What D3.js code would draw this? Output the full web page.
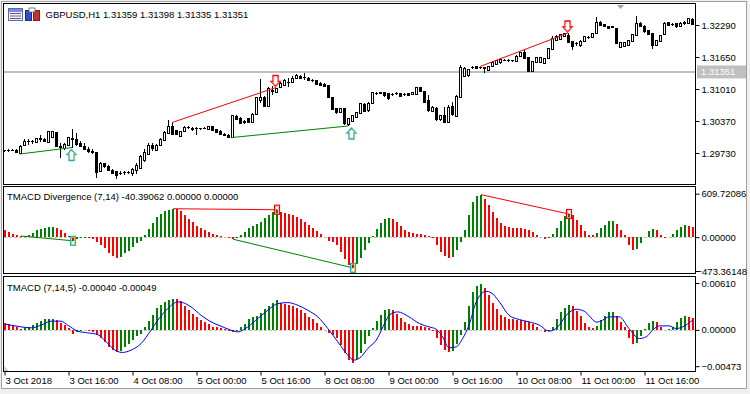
<!DOCTYPE html>
<html>
<head>
<meta charset="utf-8">
<script src="https://cdn.jsdelivr.net/npm/d3@7"></script>
<style>
body { margin: 0; background: #fff; }
svg { display: block; font-family: "Liberation Sans", Arial, sans-serif; }
</style>
</head>
<body>
<div id="chart"></div>
<script>
//GBPUSD H1 candles -> [open, high, low, close]
var candles = [
 [1.2978,1.2980,1.2976,1.2979],[1.2979,1.2981,1.2976,1.2978],[1.2978,1.2981,1.2977,1.2979],[1.2979,1.2981,1.2973,1.2974],
 [1.2973,1.2990,1.2971,1.2987],[1.2989,1.3002,1.2987,1.2996],[1.2996,1.3001,1.2989,1.2997],[1.2997,1.3000,1.2991,1.2996],
 [1.2995,1.3004,1.2994,1.3002],[1.3002,1.3009,1.2996,1.3001],[1.3001,1.3003,1.2996,1.2997],[1.2995,1.3018,1.2994,1.3016],
 [1.3005,1.3018,1.3003,1.3016],[1.3015,1.3016,1.2986,1.2987],[1.2987,1.2993,1.2963,1.2984],[1.2982,1.2993,1.2980,1.2991],
 [1.2989,1.3005,1.2987,1.3004],[1.3003,1.3022,1.2984,1.3001],[1.3001,1.3013,1.2987,1.2991],[1.2992,1.2997,1.2985,1.2986],
 [1.2986,1.2993,1.2979,1.2981],[1.2981,1.2985,1.2973,1.2976],[1.2977,1.2981,1.2972,1.2975],[1.2975,1.2976,1.2923,1.2935],
 [1.2937,1.2955,1.2935,1.2952],[1.2952,1.2954,1.2943,1.2946],[1.2946,1.2949,1.2937,1.2938],[1.2939,1.2941,1.2931,1.2933],
 [1.2936,1.2938,1.2922,1.2928],[1.2933,1.2937,1.2929,1.2932],[1.2934,1.2937,1.2930,1.2935],[1.2934,1.2937,1.2931,1.2935],
 [1.2933,1.2943,1.2928,1.2941],[1.2939,1.2953,1.2931,1.2949],[1.2943,1.2969,1.2941,1.2967],[1.2959,1.2981,1.2955,1.2975],
 [1.2971,1.2993,1.2969,1.2989],[1.2989,1.2993,1.2977,1.2983],[1.2979,1.2991,1.2977,1.2989],[1.2989,1.3003,1.2987,1.3001],
 [1.2999,1.3017,1.2997,1.3015],[1.3013,1.3039,1.3011,1.3027],[1.3027,1.3034,1.3009,1.3011],[1.3018,1.3019,1.3009,1.3011],
 [1.3007,1.3018,1.3005,1.3017],[1.3016,1.3027,1.3015,1.3025],[1.3024,1.3027,1.3021,1.3024],[1.3023,1.3025,1.3018,1.3020],
 [1.3022,1.3026,1.3009,1.3022],[1.3022,1.3024,1.3020,1.3023],[1.3022,1.3025,1.3021,1.3023],[1.3021,1.3028,1.3020,1.3026],
 [1.3026,1.3028,1.3017,1.3019],[1.3020,1.3022,1.3014,1.3015],[1.3017,1.3019,1.3009,1.3010],[1.3010,1.3013,1.3007,1.3009],
 [1.3009,1.3011,1.3004,1.3005],[1.3005,1.3049,1.3004,1.3048],[1.3047,1.3049,1.3039,1.3040],[1.3042,1.3045,1.3032,1.3033],
 [1.3035,1.3039,1.3032,1.3036],[1.3042,1.3043,1.3033,1.3034],[1.3035,1.3053,1.3033,1.3051],[1.3051,1.3085,1.3049,1.3084],
 [1.3079,1.3122,1.3073,1.3085],[1.3085,1.3087,1.3065,1.3067],[1.3067,1.3105,1.3065,1.3103],[1.3096,1.3107,1.3089,1.3099],
 [1.3095,1.3104,1.3093,1.3103],[1.3105,1.3115,1.3103,1.3112],[1.3109,1.3121,1.3107,1.3118],[1.3114,1.3123,1.3105,1.3115],
 [1.3115,1.3127,1.3113,1.3123],[1.3123,1.3131,1.3121,1.3128],[1.3127,1.3129,1.3121,1.3123],[1.3125,1.3134,1.3119,1.3124],
 [1.3123,1.3125,1.3117,1.3119],[1.3119,1.3121,1.3115,1.3118],[1.3119,1.3120,1.3109,1.3111],[1.3113,1.3115,1.3107,1.3109],
 [1.3111,1.3113,1.3105,1.3107],[1.3108,1.3109,1.3083,1.3085],[1.3085,1.3086,1.3059,1.3061],[1.3062,1.3063,1.3051,1.3054],
 [1.3054,1.3064,1.3053,1.3062],[1.3062,1.3063,1.3029,1.3032],[1.3030,1.3044,1.3027,1.3042],[1.3037,1.3049,1.3035,1.3048],
 [1.3044,1.3055,1.3043,1.3054],[1.3053,1.3073,1.3051,1.3072],[1.3071,1.3073,1.3055,1.3057],[1.3058,1.3075,1.3056,1.3073],
 [1.3073,1.3096,1.3071,1.3094],[1.3093,1.3096,1.3090,1.3092],[1.3093,1.3096,1.3091,1.3094],[1.3094,1.3095,1.3086,1.3088],
 [1.3093,1.3094,1.3080,1.3082],[1.3091,1.3094,1.3087,1.3090],[1.3092,1.3095,1.3090,1.3093],[1.3093,1.3094,1.3085,1.3086],
 [1.3090,1.3093,1.3087,1.3091],[1.3092,1.3093,1.3087,1.3089],[1.3091,1.3095,1.3090,1.3094],[1.3091,1.3105,1.3090,1.3104],
 [1.3104,1.3106,1.3095,1.3097],[1.3097,1.3098,1.3073,1.3075],[1.3079,1.3089,1.3055,1.3058],[1.3056,1.3067,1.3055,1.3064],
 [1.3063,1.3065,1.3038,1.3040],[1.3040,1.3049,1.3038,1.3048],[1.3049,1.3065,1.3033,1.3035],[1.3035,1.3069,1.3033,1.3065],
 [1.3067,1.3075,1.3047,1.3051],[1.3047,1.3089,1.3045,1.3087],[1.3085,1.3149,1.3083,1.3144],[1.3127,1.3145,1.3125,1.3142],
 [1.3128,1.3142,1.3126,1.3140],[1.3144,1.3148,1.3141,1.3145],[1.3146,1.3147,1.3141,1.3142],[1.3144,1.3146,1.3141,1.3145],
 [1.3144,1.3146,1.3133,1.3143],[1.3139,1.3147,1.3138,1.3146],[1.3146,1.3157,1.3145,1.3155],[1.3151,1.3160,1.3150,1.3159],
 [1.3154,1.3163,1.3152,1.3161],[1.3159,1.3161,1.3157,1.3158],[1.3159,1.3161,1.3156,1.3158],[1.3158,1.3160,1.3156,1.3159],
 [1.3157,1.3169,1.3156,1.3167],[1.3166,1.3175,1.3165,1.3174],[1.3174,1.3182,1.3162,1.3163],[1.3164,1.3165,1.3135,1.3136],
 [1.3136,1.3158,1.3135,1.3157],[1.3155,1.3165,1.3154,1.3164],[1.3155,1.3166,1.3153,1.3164],[1.3153,1.3164,1.3151,1.3163],
 [1.3162,1.3183,1.3161,1.3182],[1.3180,1.3207,1.3179,1.3202],[1.3198,1.3209,1.3197,1.3207],[1.3201,1.3212,1.3200,1.3211],
 [1.3206,1.3214,1.3205,1.3213],[1.3209,1.3213,1.3193,1.3194],[1.3197,1.3198,1.3180,1.3187],[1.3193,1.3196,1.3188,1.3192],
 [1.3189,1.3199,1.3186,1.3197],[1.3197,1.3207,1.3196,1.3206],[1.3204,1.3207,1.3202,1.3205],[1.3204,1.3213,1.3203,1.3212],
 [1.3212,1.3246,1.3211,1.3235],[1.3235,1.3237,1.3227,1.3229],[1.3231,1.3232,1.3225,1.3226],[1.3227,1.3228,1.3222,1.3223],
 [1.3226,1.3228,1.3223,1.3225],[1.3223,1.3224,1.3191,1.3192],[1.3185,1.3195,1.3184,1.3194],[1.3187,1.3196,1.3186,1.3195],
 [1.3189,1.3200,1.3188,1.3199],[1.3196,1.3211,1.3195,1.3210],[1.3209,1.3247,1.3207,1.3232],[1.3232,1.3235,1.3225,1.3226],
 [1.3227,1.3229,1.3214,1.3216],[1.3219,1.3220,1.3209,1.3211],[1.3213,1.3214,1.3182,1.3188],[1.3189,1.3200,1.3187,1.3199],
 [1.3196,1.3210,1.3195,1.3209],[1.3211,1.3235,1.3210,1.3233],[1.3234,1.3235,1.3227,1.3229],[1.3231,1.3233,1.3228,1.3230],
 [1.3232,1.3233,1.3224,1.3226],[1.3227,1.3235,1.3225,1.3233],[1.3232,1.3237,1.3230,1.3235],[1.3233,1.3244,1.3232,1.3242],
 [1.3241,1.3243,1.3230,1.3231]
];

//TMACD histogram in points (divergence pane), same bars / 100000 in the TMACD pane
var histPts = [
 95, 80, 47, 33, 17, 20, 33, 62, 95, 120,
 135, 142, 146, 125, 95, 60, 22, -50, -32, -12,
 -4, -10, -28, -61, -108, -155, -225, -263, -286, -272,
 -225, -188, -131, -84, -52, 33, 113, 197, 281, 324,
 361, 385, 399, 396, 370, 314, 258, 211, 164, 127,
 103, 70, 42, 33, 23, 5, -14, -28, -14, 33,
 80, 136, 164, 183, 220, 267, 305, 352, 385, 352,
 338, 323, 314, 281, 253, 220, 173, 136, 94, 42,
 -3, -47, -70, -108, -202, -305, -389, -430, -380, -295,
 -178, -84, 23, 117, 197, 258, 272, 253, 211, 159,
 103, 70, 55, 50, 45, 38, 23, -14, -108, -202,
 -263, -286, -272, -178, -70, 103, 305, 492, 572, 596,
 539, 455, 352, 267, 197, 164, 141, 136, 127, 125,
 117, 103, 80, 33, -3, -23, -14, 42, 136, 230,
 291, 325, 315, 244, 174, 94, 33, 30, 56, 127,
 174, 230, 232, 183, 103, 33, -108, -178, -165, -84,
 10, 94, 117, 103, 33, -5, 5, 42, 103, 150,
 174, 164, 150
];

var signalPts = [
 [0,74],[1.5,61],[4,39],[6.5,26],[9,61],[11.5,113],[14,113],[15.7,61],[18.2,-17],[20.7,-39],
 [23.2,-61],[25.7,-178],[27.8,-273],[29.4,-294],[31.5,-264],[34,-178],[36.5,-4],[38.2,126],[40.7,277],[43.2,364],
 [44.4,355],[46.5,299],[49,190],[51.5,104],[54,48],[56.5,-4],[58.2,-26],[60.7,39],[63.2,147],[65.7,255],
 [68.2,342],[70.7,355],[73.2,320],[75.7,255],[78.2,169],[80.7,17],[83.2,-156],[85.7,-329],[87.2,-394],[89,-351],
 [90.7,-242],[92.8,-134],[95.3,126],[96,190],[98.2,234],[101,169],[103.6,82],[106,39],[107.8,9],[109.4,-91],
 [111,-234],[112.8,-221],[114.4,-113],[116,61],[117.8,364],[120.3,502],[121.5,485],[123.6,364],[126,190],[128.6,134],
 [131,104],[133.6,61],[136,-17],[138.2,39],[140.3,190],[142.8,268],[144.8,243],[148,100],[149.4,126],[151,169],
 [153.6,169],[156,17],[158.6,-113],[160.3,-91],[161.9,-4],[163.6,52],[166,52],[167.8,17],[169.4,39],[171.9,126]
];

//divergences: a -> b bar indexes, arrow bar
var priceDiv = [
 {a: 4, b: 17, kind: "bull"},
 {a: 42, b: 68, kind: "bear"},
 {a: 57, b: 86, kind: "bull"},
 {a: 119, b: 141, kind: "bear"}
];
var histDiv = [
 {a: 4, b: 17, kind: "bull"},
 {a: 42, b: 68, kind: "bear"},
 {a: 57, b: 87, kind: "bull"},
 {a: 119, b: 141, kind: "bear"}
];
var arrowBars = [17, 68, 87, 141];

var timeIdx = [0, 16, 32, 48, 64, 80, 96, 112, 128, 144, 160];
var timeLabels = ["3 Oct 2018", "3 Oct 16:00", "4 Oct 08:00", "5 Oct 00:00", "5 Oct 16:00", "8 Oct 08:00",
                  "9 Oct 00:00", "9 Oct 16:00", "10 Oct 08:00", "11 Oct 00:00", "11 Oct 16:00"];
var priceTicks = [1.32290, 1.31650, 1.31010, 1.30370, 1.29730];
var bidPrice = 1.31351;
var divTicks = [609.72086, 0, -473.36148];
var macdTicks = [0.00610, 0, -0.00473];

var W = 750, H = 394;
var GREEN = "#008000", RED = "#ff0000";
var TEAL = "#19b2bb", GOLD = "#e8b830";

var svg = d3.select("#chart")
            .append("svg")
            .attr("width", W)
            .attr("height", H);

//window frame
svg.append("rect").attr("width", W).attr("height", H).attr("fill", "#f0f0f0");
svg.append("rect")
   .attr("x", 1.5).attr("y", 1.5)
   .attr("width", 745).attr("height", 387)
   .attr("fill", "#fff")
   .attr("stroke", "#a0a0a0");

//scales
var x = d3.scaleLinear().domain([0, candles.length - 1]).range([4, 692]);
var yP = d3.scaleLinear().domain([1.2909, 1.3271]).range([185, 4]);
var yD = d3.scaleLinear().domain([-473.36148, 609.72086]).range([271, 193.7]);
var yM = d3.scaleLinear().domain([-0.00473, 0.0061]).range([366.2, 283]);

//pane boxes
var panes = [
  {id: "clipMain", y0: 3.5, y1: 184.5},
  {id: "clipDiv", y0: 186.5, y1: 273.5},
  {id: "clipMacd", y0: 276.5, y1: 371.5}
];
var defs = svg.append("defs");
panes.forEach(function(p) {
  defs.append("clipPath").attr("id", p.id)
      .append("rect")
      .attr("x", 4).attr("y", p.y0 + 0.5)
      .attr("width", 691).attr("height", p.y1 - p.y0 - 1);
});

//Main pane
var gM = svg.append("g").attr("clip-path", "url(#clipMain)");

//bid line
gM.append("line")
  .attr("x1", 4).attr("x2", 695)
  .attr("y1", Math.round(yP(bidPrice))).attr("y2", Math.round(yP(bidPrice)))
  .attr("stroke", "#c0c0c0")
  .attr("stroke-width", 2);

var gCandle = gM.append("g").attr("shape-rendering", "crispEdges");

gCandle.append("g").selectAll("line")
  .data(candles)
  .join("line")
  .attr("x1", function(d, i) { return x(i) + 0.5; })
  .attr("x2", function(d, i) { return x(i) + 0.5; })
  .attr("y1", function(d) { return yP(d[1]); })
  .attr("y2", function(d) { return yP(d[2]); })
  .attr("stroke", "#000");

gCandle.append("g").selectAll("rect")
  .data(candles)
  .join("rect")
  .attr("x", function(d, i) { return x(i) - 0.5; })
  .attr("width", 2)
  .attr("y", function(d) { return yP(Math.max(d[0], d[3])); })
  .attr("height", function(d) { return Math.max(0.01, Math.abs(yP(d[0]) - yP(d[3]))); })
  .attr("fill", function(d) { return d[3] >= d[0] ? "#fff" : "#000"; })
  .attr("stroke", "#000");

//price divergence lines
priceDiv.forEach(function(p) {
  var k = p.kind == "bull" ? 2 : 1;
  gM.append("line")
    .attr("x1", x(p.a)).attr("y1", yP(candles[p.a][k]))
    .attr("x2", x(p.b)).attr("y2", yP(candles[p.b][k]))
    .attr("stroke", p.kind == "bull" ? GREEN : RED)
    .attr("stroke-width", 1);
});

function arrowPath(cx, tip, s) {
  return "M" + cx + "," + tip +
         "L" + (cx + 4.5) + "," + (tip + s * 5) +
         "L" + (cx + 2.5) + "," + (tip + s * 5) +
         "L" + (cx + 2.5) + "," + (tip + s * 11) +
         "L" + (cx - 2.5) + "," + (tip + s * 11) +
         "L" + (cx - 2.5) + "," + (tip + s * 5) +
         "L" + (cx - 4.5) + "," + (tip + s * 5) + "Z";
}

//arrows
priceDiv.forEach(function(p, j) {
  var cx = x(arrowBars[j]) - 0.5;
  if (p.kind == "bull") {
    var tip = yP(candles[p.b][2]) + 2;
    gM.append("path").attr("d", arrowPath(cx, tip, 1))
      .attr("fill", "#fff").attr("stroke", TEAL).attr("stroke-width", 1.3);
    gM.append("path").attr("d", arrowPath(cx + 0.6, tip + 1.2, 1))
      .attr("fill", "none").attr("stroke", GOLD).attr("stroke-width", 0.6)
      .attr("transform", "translate(" + (cx * 0.2) + "," + (tip * 0.2) + ") scale(0.8)");
  } else {
    var tip2 = yP(candles[p.b][1]) - 1;
    gM.append("path").attr("d", arrowPath(cx, tip2, -1))
      .attr("fill", "#fff").attr("stroke", RED).attr("stroke-width", 1.3);
    gM.append("path").attr("d", arrowPath(cx, tip2, -1))
      .attr("fill", "none").attr("stroke", "#ffb0b0").attr("stroke-width", 0.6)
      .attr("transform", "translate(" + (cx * 0.2) + "," + (tip2 * 0.2) + ") scale(0.8)");
  }
});

//shift marker
svg.append("path").attr("d", "M617,5L624,5L620.5,9Z").attr("fill", "#a0a0a0");

//title + icons
svg.append("rect").attr("x", 8.5).attr("y", 8.5).attr("width", 14).attr("height", 12)
   .attr("fill", "#eef0fa").attr("stroke", "#5a6aa8");
svg.append("rect").attr("x", 9).attr("y", 9).attr("width", 13).attr("height", 3).attr("fill", "#7c8ccc");
[13.5, 16, 18.5].forEach(function(yy, k) {
  svg.append("line").attr("x1", 10).attr("x2", 21).attr("y1", yy).attr("y2", yy)
     .attr("stroke", k == 1 ? "#d04040" : "#4060c0");
});
svg.append("rect").attr("x", 25.5).attr("y", 10.5).attr("width", 6).attr("height", 10)
   .attr("fill", "#3050c8").attr("stroke", "#203080");
svg.append("rect").attr("x", 33.5).attr("y", 10.5).attr("width", 6).attr("height", 10)
   .attr("fill", "#c83030").attr("stroke", "#802020");
svg.append("rect").attr("x", 29).attr("y", 8).attr("width", 6).attr("height", 4)
   .attr("fill", "#fff").attr("stroke", "#606060").attr("stroke-width", 0.8);

svg.append("text")
   .attr("x", 45.5).attr("y", 18)
   .attr("font-size", "9.5px")
   .text("GBPUSD,H1  1.31359 1.31398 1.31335 1.31351");

//Divergence pane
var gD = svg.append("g").attr("clip-path", "url(#clipDiv)");

gD.append("line")
  .attr("x1", 4).attr("x2", 695)
  .attr("y1", Math.round(yD(0)) + 0.5).attr("y2", Math.round(yD(0)) + 0.5)
  .attr("stroke", "#c0c0c0").attr("stroke-dasharray", "3,2");

function barColor(d, i, arr) {
  return (i > 0 && d > arr[i - 1]) ? GREEN : RED;
}

gD.append("g").attr("shape-rendering", "crispEdges")
  .selectAll("rect")
  .data(histPts)
  .join("rect")
  .attr("x", function(d, i) { return x(i); })
  .attr("width", 2)
  .attr("y", function(d) { return Math.min(yD(d), yD(0)); })
  .attr("height", function(d) { return Math.abs(yD(d) - yD(0)); })
  .attr("fill", function(d, i) { return barColor(d, i, histPts); });

histDiv.forEach(function(p) {
  gD.append("line")
    .attr("x1", x(p.a) + 1).attr("y1", yD(histPts[p.a]))
    .attr("x2", x(p.b) + 1).attr("y2", yD(histPts[p.b]))
    .attr("stroke", p.kind == "bull" ? GREEN : RED);
});

histDiv.forEach(function(p, j) {
  var bx = x(arrowBars[j]) + 1, by = yD(histPts[arrowBars[j]]);
  gD.append("rect")
    .attr("x", bx - 2.5).attr("y", by - 4.5)
    .attr("width", 5).attr("height", 9)
    .attr("fill", "none")
    .attr("stroke", p.kind == "bull" ? TEAL : RED)
    .attr("stroke-width", 1.2);
  gD.append("rect")
    .attr("x", bx - 1.5).attr("y", by - 3.5)
    .attr("width", 3).attr("height", 7)
    .attr("fill", "none")
    .attr("stroke", p.kind == "bull" ? GOLD : "#ffb0b0")
    .attr("stroke-width", 0.7);
});

svg.append("text")
   .attr("x", 7).attr("y", 199.5)
   .attr("font-size", "9.5px")
   .text("TMACD Divergence (7,14) -40.39062 0.00000 0.00000");

//TMACD pane
var gT = svg.append("g").attr("clip-path", "url(#clipMacd)");

gT.append("line")
  .attr("x1", 4).attr("x2", 695)
  .attr("y1", Math.round(yM(0)) + 0.5).attr("y2", Math.round(yM(0)) + 0.5)
  .attr("stroke", "#c0c0c0").attr("stroke-dasharray", "3,2");

gT.append("g").attr("shape-rendering", "crispEdges")
  .selectAll("rect")
  .data(histPts)
  .join("rect")
  .attr("x", function(d, i) { return x(i); })
  .attr("width", 2)
  .attr("y", function(d) { return Math.min(yM(d / 100000), yM(0)); })
  .attr("height", function(d) { return Math.abs(yM(d / 100000) - yM(0)); })
  .attr("fill", function(d, i) { return barColor(d, i, histPts); });

var sigLine = d3.line()
  .x(function(d) { return x(d[0]) + 1; })
  .y(function(d) { return yM(d[1] / 100000); })
  .curve(d3.curveMonotoneX);

gT.append("path")
  .attr("d", sigLine(signalPts))
  .attr("fill", "none")
  .attr("stroke", "#0000ff")
  .attr("stroke-width", 1);

svg.append("path").attr("d", "M4.5,366L4.5,371L8.5,371Z").attr("fill", "#c8c8c8");

svg.append("text")
   .attr("x", 7).attr("y", 290.5)
   .attr("font-size", "9.5px")
   .text("TMACD (7,14,5) -0.00040 -0.00049");

//pane borders
panes.forEach(function(p) {
  svg.append("rect")
     .attr("x", 3.5).attr("y", p.y0)
     .attr("width", 692).attr("height", p.y1 - p.y0)
     .attr("fill", "none")
     .attr("stroke", "#000")
     .attr("shape-rendering", "crispEdges");
});

//right axes
function rightAxis(scale, ticks, fmt) {
  var g = svg.append("g")
     .attr("transform", "translate(695.5,0)")
     .call(d3.axisRight(scale).tickValues(ticks).tickFormat(fmt).tickSize(4).tickPadding(2));
  g.select(".domain").remove();
  g.selectAll("text").attr("font-size", "9.5px").attr("font-family", "Liberation Sans, Arial, sans-serif").attr("fill", "#000");
  g.selectAll("line").attr("stroke", "#000");
  //keep long labels inside the window
  g.selectAll("text").each(function() {
    var w = this.getComputedTextLength();
    var x0 = 695.5 + 6;
    if (x0 + w > 747) d3.select(this).attr("x", 747 - w - 695.5);
  });
  return g;
}
rightAxis(yP, priceTicks, d3.format(".5f"));
rightAxis(yD, divTicks, d3.format(".5f"));
rightAxis(yM, macdTicks, d3.format(".5f"));

//bid label
svg.append("rect")
   .attr("x", 697).attr("y", yP(bidPrice) - 6.5)
   .attr("width", 49).attr("height", 13)
   .attr("fill", "#c0c0c0");
svg.append("text")
   .attr("x", 701).attr("y", yP(bidPrice) + 3.5)
   .attr("font-size", "9.5px")
   .attr("fill", "#fff")
   .text(d3.format(".5f")(bidPrice));

//time axis
var gX = svg.append("g")
   .attr("transform", "translate(0,371.5)")
   .call(d3.axisBottom(x).tickValues(timeIdx)
          .tickFormat(function(d, i) { return timeLabels[i]; })
          .tickSize(4));
gX.select(".domain").remove();
gX.selectAll("line").attr("stroke", "#000").attr("transform", "translate(0.5,0)");
gX.selectAll("text")
  .attr("font-size", "9.5px")
  .attr("font-family", "Liberation Sans, Arial, sans-serif")
  .attr("fill", "#000")
  .attr("text-anchor", "start")
  .attr("x", 1)
  .attr("y", 12.5)
  .attr("dy", 0);
</script>
</body>
</html>
